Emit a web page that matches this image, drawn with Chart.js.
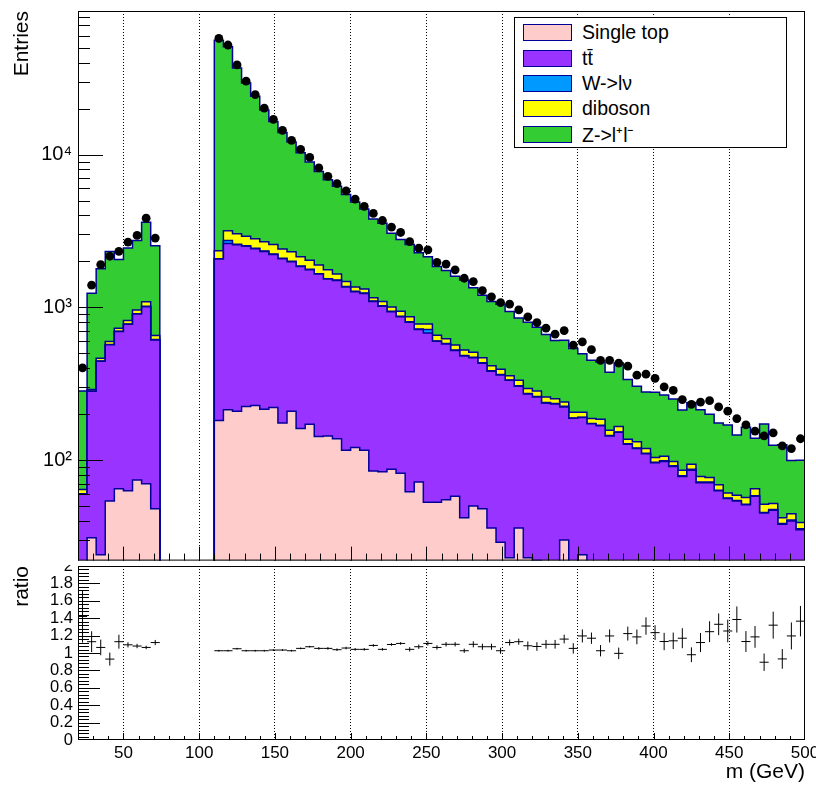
<!DOCTYPE html>
<html lang="en">
<head>
<meta charset="utf-8">
<title>m (GeV) stack</title>
<script src="https://cdn.jsdelivr.net/npm/chart.js@4.4.1/dist/chart.umd.min.js"></script>
<style>
  html, body { margin: 0; padding: 0; background: #fff; }
  #page { position: relative; width: 816px; height: 785px; overflow: hidden; font-family: "Liberation Sans", Arial, sans-serif; }
  #ratioPad { position: absolute; left: 0; top: 540px; width: 816px; height: 245px; }
  #mainPad { position: absolute; left: 0; top: 0; width: 816px; height: 565px; background: #fff; }
  .legend { position: absolute; left: 514px; top: 17px; width: 273px; height: 131px; border: 1px solid #000; background: #fff; box-sizing: border-box; padding-top: 2px; }
  .legend-item { display: flex; align-items: center; height: 25.4px; font-size: 19.5px; color: #000; white-space: nowrap; }
  .legend-item .color { width: 49px; height: 17px; margin-left: 8px; margin-right: 10px; border: 1.5px solid #000099; box-sizing: border-box; }
</style>
</head>
<body>
<div id="page">
  <div id="ratioPad"><canvas id="ratioChart" width="816" height="245"></canvas></div>
  <div id="mainPad"><canvas id="stackChart" width="816" height="565"></canvas></div>
  <div class="legend"></div>
</div>
<script>
// binning : 80 bins of 6 GeV from 20 to 500, window 74-110 is empty
const binWidth = 6;
const xMin = 20;
const xMax = 500;
const yMin = 22;
const yMax = 87000;
const floorValue = 1; // below the log axis, used to close the step outline

const processNames = ["Single top", "tt\u0304", "W->l\u03bd", "diboson", "Z->l\u207al\u207b"];
const processColors = ["#ffcccc", "#9933ff", "#0099ff", "#ffff00", "#33cc33"];
const lineColor = "#000099";

const singleTop = [15, 31, 24, 54, 65, 63, 74, 70, 48,
  null, null, null, null, null, null,
  182, 214, 209, 224, 228, 215, 221, 175, 209, 161,
  172, 143, 144, 138, 116, 121, 116, 85, 84, 87,
  82, 62, 72, 53, 53, 55, 58, 42, 50, 48,
  36, 29, 23, 36, 23, 22, 10, 10, 30, 15,
  24, 20, 8, 8, 8, 6, 6, 6, 5, 5,
  5, 4, 4, 4, 4, 3, 3, 3, 3, 3,
  2, 2, 2, 2, 2];

const ttbar = [45, 251, 419, 515, 630, 712, 831, 940, 564,
  null, null, null, null, null, null,
  1888, 2406, 2361, 2286, 2192, 2105, 1999, 1905, 1781, 1689,
  1588, 1507, 1386, 1362, 1243, 1144, 1114, 1007, 932, 850,
  785, 737, 645, 626, 546, 521, 464, 439, 418, 383,
  346, 332, 310, 269, 248, 237, 226, 223, 193, 173,
  166, 153, 160, 136, 144, 121, 113, 104, 91, 93,
  86, 74, 82, 67, 67, 60, 53, 51, 48, 55,
  43, 45, 36, 38, 33];

const wlnu = [0.3, 1, 2, 3, 3, 4, 4, 5, 3,
  null, null, null, null, null, null,
  10, 120, 20, 20, 20, 18, 18, 16, 15, 14,
  13, 12, 11, 10, 10, 9, 9, 8, 7, 7,
  6, 6, 5, 38, 4, 4, 4, 3, 3, 3,
  3, 3, 2, 2, 2, 2, 2, 2, 2, 1,
  1, 1, 1, 1, 1, 1, 1, 1, 1, 1,
  1, 1, 1, 1, 1, 0.5, 0.5, 0.5, 0.5, 0.5,
  0.5, 0.5, 0.5, 0.5, 0.5];

const diboson = [4, 7, 19, 26, 32, 40, 52, 73, 40,
  null, null, null, null, null, null,
  270, 430, 440, 390, 370, 352, 342, 314, 305, 276,
  257, 228, 219, 140, 106, 85, 81, 54, 69, 62,
  69, 62, 56, 61, 54, 42, 40, 41, 37, 34,
  30, 29, 21, 26, 21, 22, 21, 17, 15, 17,
  15, 13, 16, 12, 13, 9, 12, 8, 7, 7,
  6, 7, 7, 6, 5, 5.5, 4.5, 4.5, 5.5, 6.5,
  6, 4.5, 3.5, 4, 3.5];

const zll = [219, 946, 1326, 1725, 1328, 1626, 1775, 2517, 1879,
  null, null, null, null, null, null,
  53690, 47610, 33770, 26510, 21260, 16900, 13860, 11520, 9780, 8120,
  6900, 5870, 5080, 4560, 4005, 3541, 3080, 2636, 2458, 2044,
  1838, 1713, 1498, 1366, 1193, 1123, 1034, 985, 833, 732,
  678, 654, 582, 518, 506, 457, 406, 354, 368, 331,
  291, 264, 254, 219, 267, 200, 172, 160, 174, 161,
  153, 127, 143, 136, 123, 106, 109, 87, 107, 74,
  121, 73, 84, 55, 61];

const dataCounts = [401, 1397, 1905, 2160, 2326, 2675, 2956, 3836, 2838,
  null, null, null, null, null, null,
  57500, 52100, 38600, 30200, 24700, 20100, 17000, 14400, 12400, 10800,
  9570, 8170, 7200, 6450, 5790, 5110, 4580, 4120, 3700, 3350,
  3090, 2690, 2440, 2380, 1970, 1920, 1760, 1550, 1475, 1286,
  1172, 1074, 1050, 962, 867, 795, 732, 667, 705, 566,
  595, 528, 450, 450, 431, 412, 360, 365, 343, 302,
  286, 249, 232, 240, 245, 223, 209, 187, 170, 155,
  144, 151, 124, 119, 138];

const ratioValues = [1.42, 1.13, 1.064, 0.93, 1.13, 1.094, 1.08, 1.064, 1.12,
  null, null, null, null, null, null,
  1.026, 1.026, 1.049, 1.026, 1.026, 1.026, 1.034, 1.034, 1.026, 1.053,
  1.072, 1.053, 1.053, 1.038, 1.057, 1.042, 1.042, 1.087, 1.042, 1.098,
  1.11, 1.042, 1.072, 1.11, 1.064, 1.10, 1.10, 1.026, 1.10, 1.072,
  1.072, 1.026, 1.12, 1.13, 1.083, 1.075, 1.10, 1.10, 1.16, 1.053,
  1.196, 1.17, 1.026, 1.196, 0.996, 1.223, 1.185, 1.31, 1.234, 1.132,
  1.14, 1.17, 0.98, 1.12, 1.245, 1.33, 1.253, 1.385, 1.132, 1.185,
  0.894, 1.32, 0.932, 1.196, 1.366];

const ratioErrors = [0.30, 0.12, 0.09, 0.075, 0.08, 0.03, 0.025, 0.02, 0.03,
  null, null, null, null, null, null,
  0.01, 0.01, 0.01, 0.01, 0.01, 0.01, 0.01, 0.01, 0.01, 0.01,
  0.01, 0.015, 0.015, 0.015, 0.015, 0.015, 0.015, 0.015, 0.015, 0.015,
  0.015, 0.025, 0.025, 0.025, 0.025, 0.025, 0.025, 0.025, 0.035, 0.035,
  0.035, 0.035, 0.035, 0.035, 0.05, 0.05, 0.05, 0.05, 0.05, 0.06,
  0.075, 0.065, 0.065, 0.075, 0.066, 0.08, 0.085, 0.1, 0.085, 0.1,
  0.095, 0.115, 0.085, 0.11, 0.12, 0.125, 0.13, 0.15, 0.12, 0.125,
  0.10, 0.155, 0.113, 0.155, 0.175];

const xLabelTicks = [50, 100, 150, 200, 250, 300, 350, 400, 450, 500];
const yLabelTicks = [100, 1000, 10000];
const yLabelText = { 100: "10\u00b2", 1000: "10\u00b3", 10000: "10\u2074" };
const ratioLabelTicks = [0, 0.2, 0.4, 0.6, 0.8, 1, 1.2, 1.4, 1.6, 1.8, 2];

Chart.defaults.font.family = '"Liberation Sans", Arial, sans-serif';
Chart.defaults.color = "#000";

// ---------------------------
// stack : cumulative sums, bottom to top
// ---------------------------
const stackInputs = [singleTop, ttbar, wlnu, diboson, zll];
const cumulative = [];
let running = singleTop.map(v => (v === null ? null : 0));
stackInputs.forEach(arr => {
  running = running.map((r, i) => (r === null ? null : r + arr[i]));
  cumulative.push(running);
});

// step outline points at the bin low edges
function histPoints(values) {
  const pts = [];
  let open = false;
  values.forEach((v, i) => {
    const lo = xMin + i * binWidth;
    if (v === null) {
      if (open) {
        pts.push({ x: lo, y: values[i - 1] }, { x: lo, y: floorValue }, { x: lo, y: null });
        open = false;
      }
      return;
    }
    if (!open) { pts.push({ x: lo, y: floorValue }); open = true; }
    pts.push({ x: lo, y: v });
  });
  pts.push({ x: xMax, y: values[values.length - 1] });
  return pts;
}

const stackDatasets = cumulative.map((cum, i) => ({
  label: processNames[i],
  data: histPoints(cum),
  stepped: true,
  fill: "start",
  backgroundColor: processColors[i],
  borderColor: lineColor,
  borderWidth: 1.5,
  pointRadius: 0,
  spanGaps: false
}));

const dataPoints = [];
dataCounts.forEach((v, i) => {
  if (v !== null) dataPoints.push({ x: xMin + (i + 0.5) * binWidth, y: v });
});

// ratio crosses : horizontal bar over the bin + vertical error bar
const ratioPoints = [];
ratioValues.forEach((r, i) => {
  if (r === null) return;
  const lo = xMin + i * binWidth;
  const c = lo + binWidth / 2;
  ratioPoints.push({ x: lo, y: r }, { x: lo + binWidth, y: r }, { x: c, y: null });
  ratioPoints.push({ x: c, y: r - ratioErrors[i] }, { x: c, y: r + ratioErrors[i] }, { x: c, y: null });
});

// ---------------------------
// ROOT style frame + inner tick marks
// ---------------------------
const rootFrame = {
  id: "rootFrame",
  afterDatasetsDraw(chart, args, opts) {
    const { ctx, chartArea: area } = chart;
    const xs = chart.scales.x, ys = chart.scales.y;
    ctx.save();
    ctx.strokeStyle = "#000";
    ctx.lineWidth = 1;
    ctx.beginPath();
    for (let v = xMin + 10; v < xMax; v += 10) {
      const px = Math.round(xs.getPixelForValue(v)) + 0.5;
      const len = v % 50 === 0 ? opts.xMajor : opts.xMinor;
      ctx.moveTo(px, area.bottom);
      ctx.lineTo(px, area.bottom - len);
    }
    opts.yMarks().forEach(([v, major]) => {
      const py = Math.round(ys.getPixelForValue(v)) + 0.5;
      ctx.moveTo(area.left, py);
      ctx.lineTo(area.left + (major ? opts.yMajor : opts.yMinor), py);
    });
    ctx.stroke();
    ctx.strokeRect(area.left + 0.5, area.top + 0.5, area.width - 1, area.height - 1);
    ctx.restore();
  }
};

function logMarks() {
  const marks = [];
  for (let d = 10; d <= 100000; d *= 10) {
    for (let m = 1; m <= 9; m++) {
      const v = m * d;
      if (v > yMin && v < yMax) marks.push([v, m === 1]);
    }
  }
  return marks;
}

function ratioMarks() {
  const marks = [];
  for (let i = 1; i < 50; i++) marks.push([i * 0.04, i % 5 === 0]);
  return marks;
}

const gridColor = ctx => (ctx.tick && ctx.tick.value === xMax ? "rgba(0,0,0,0)" : "#000");

// ---------------------------
// upper pad
// ---------------------------
new Chart(document.getElementById("stackChart"), {
  type: "line",
  data: {
    datasets: [{
      label: "data",
      data: dataPoints,
      showLine: false,
      pointRadius: 4.4,
      pointBackgroundColor: "#000",
      pointBorderWidth: 0
    }, ...stackDatasets]
  },
  options: {
    responsive: false,
    animation: false,
    layout: { padding: { left: 0, right: 11, top: 11, bottom: 0 } },
    plugins: {
      legend: { display: false },
      tooltip: { enabled: false },
      rootFrame: { xMajor: 14, xMinor: 7, yMajor: 25, yMinor: 12, yMarks: logMarks }
    },
    scales: {
      x: {
        type: "linear", min: xMin, max: xMax,
        afterBuildTicks: s => { s.ticks = xLabelTicks.map(v => ({ value: v })); },
        afterFit: s => { s.height = 1; s.paddingLeft = 0; s.paddingRight = 0; },
        ticks: { display: false },
        grid: { drawTicks: false, color: gridColor, lineWidth: 1 },
        border: { display: false, dash: [1, 2] }
      },
      y: {
        type: "logarithmic", min: yMin, max: yMax,
        afterBuildTicks: s => { s.ticks = yLabelTicks.map(v => ({ value: v })); },
        afterFit: s => { s.width = 78; s.paddingTop = 0; s.paddingBottom = 0; },
        ticks: { callback: v => yLabelText[v] || "", font: { size: 20 }, padding: 6, autoSkip: false },
        grid: { display: false, drawTicks: false },
        border: { display: false },
        title: { display: true, text: "Entries", align: "end", font: { size: 21 }, padding: { top: 10, bottom: 0 } }
      }
    }
  },
  plugins: [rootFrame]
});

// ---------------------------
// ratio pad
// ---------------------------
new Chart(document.getElementById("ratioChart"), {
  type: "line",
  data: {
    datasets: [{
      label: "ratio",
      data: ratioPoints,
      borderColor: "#000",
      borderWidth: 1,
      pointRadius: 0,
      fill: false,
      spanGaps: false
    }]
  },
  options: {
    responsive: false,
    animation: false,
    layout: { padding: { left: 0, right: 11, top: 26, bottom: 0 } },
    plugins: {
      legend: { display: false },
      tooltip: { enabled: false },
      rootFrame: { xMajor: 7, xMinor: 4, yMajor: 22, yMinor: 11, yMarks: ratioMarks }
    },
    scales: {
      x: {
        type: "linear", min: xMin, max: xMax,
        afterBuildTicks: s => { s.ticks = xLabelTicks.map(v => ({ value: v })); },
        afterFit: s => { s.height = 45; s.paddingLeft = 0; s.paddingRight = 0; },
        ticks: { font: { size: 17 }, padding: 3, maxRotation: 0, autoSkip: false },
        grid: { drawTicks: false, color: gridColor, lineWidth: 1 },
        border: { display: false, dash: [1, 2] },
        title: { display: true, text: "m (GeV)", align: "end", font: { size: 21 }, padding: { top: 0, bottom: 0 } }
      },
      y: {
        type: "linear", min: 0, max: 2,
        afterBuildTicks: s => { s.ticks = ratioLabelTicks.map(v => ({ value: v })); },
        afterFit: s => { s.width = 78; s.paddingTop = 0; s.paddingBottom = 0; },
        ticks: { callback: v => String(v), font: { size: 16.5 }, padding: 5, autoSkip: false },
        grid: { display: false, drawTicks: false },
        border: { display: false },
        title: { display: true, text: "ratio", align: "end", font: { size: 21 }, padding: { top: 10, bottom: 0 } }
      }
    }
  },
  plugins: [rootFrame]
});

// ---------------------------
// legend (same order as the reference box)
// ---------------------------
const legendEl = document.querySelector(".legend");
legendEl.innerHTML = processNames.map((name, i) =>
  `<div class="legend-item"><span class="color" style="background:${processColors[i]}"></span>${name}</div>`
).join("");
</script>
</body>
</html>
